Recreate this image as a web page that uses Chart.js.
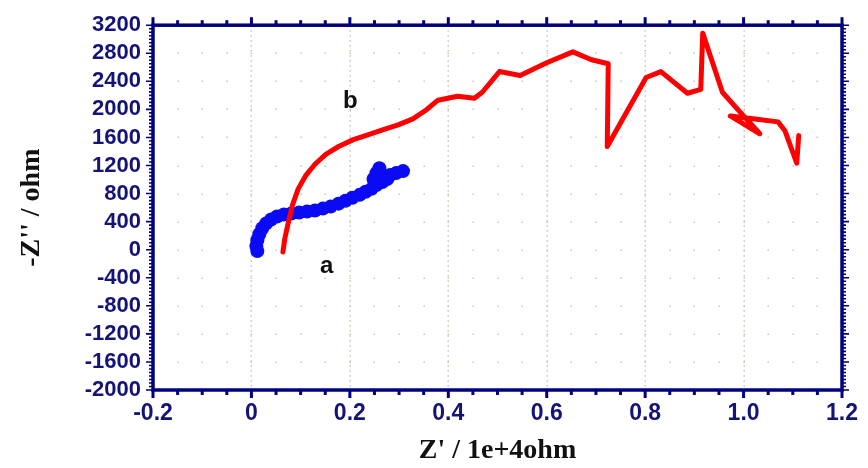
<!DOCTYPE html>
<html>
<head>
<meta charset="utf-8">
<script src="https://cdn.jsdelivr.net/npm/chart.js@4.4.1/dist/chart.umd.min.js"></script>
<style>
  html, body { margin: 0; padding: 0; background: #fff; }
  #wrap { width: 868px; height: 468px; }
</style>
</head>
<body>
<div id="wrap"><canvas id="nyquist"></canvas></div>
<script>
// ===== DATA =====
// curve a: blue dots, Z' in 1e4 ohm, -Z'' in ohm
const aRe = [0.012, 0.010, 0.012, 0.016, 0.022, 0.030, 0.040, 0.052, 0.066, 0.081,
  0.097, 0.113, 0.129, 0.145, 0.161, 0.177, 0.191, 0.205, 0.220, 0.232,
  0.244, 0.254, 0.266, 0.276, 0.248, 0.254, 0.260, 0.282, 0.294, 0.308];
const aIm = [-18, 52, 136, 221, 305, 375, 431, 473, 502, 516,
  530, 544, 558, 586, 614, 656, 698, 740, 782, 825,
  867, 923, 965, 1007, 1007, 1092, 1162, 1064, 1092, 1120];

// curve b: red line
const bRe = [0.064, 0.068, 0.075, 0.083, 0.095, 0.111, 0.129, 0.151, 0.177, 0.207,
  0.238, 0.268, 0.298, 0.328, 0.355, 0.379, 0.419, 0.453, 0.469, 0.504,
  0.546, 0.600, 0.653, 0.691, 0.725, 0.723, 0.802, 0.832, 0.886, 0.913,
  0.917, 0.957, 0.993, 1.033, 0.973, 1.023, 1.070, 1.084, 1.108, 1.112];
const bIm = [-32, 164, 389, 628, 867, 1064, 1218, 1359, 1471, 1569,
  1640, 1710, 1780, 1864, 1991, 2131, 2187, 2159, 2244, 2539,
  2483, 2665, 2820, 2707, 2651, 1471, 2455, 2539, 2230, 2286,
  3087, 2244, 1962, 1652, 1906, 1864, 1822, 1696, 1232, 1626];

const xTicks = [-0.2, 0, 0.2, 0.4, 0.6, 0.8, 1.0, 1.2];
const xTickLabels = ["-0.2", "0", "0.2", "0.4", "0.6", "0.8", "1.0", "1.2"];
const yTicks = [3200, 2800, 2400, 2000, 1600, 1200, 800, 400, 0, -400, -800, -1200, -1600, -2000];
const yTickLabels = ["3200", "2800", "2400", "2000", "1600", "1200", "800", "400", "0",
  "-400", "-800", "-1200", "-1600", "-2000"];

const curveLabels = [
  { text: "b", x: 0.201, y: 2117 },
  { text: "a", x: 0.153, y: -243 }
];

// ===== STYLE =====
const NAVY = "#000080";
const LABEL = "#141478";
const xMinor = 0.05;
const yMinor = 50;

const toPts = (xs, ys) => xs.map((v, i) => ({ x: v, y: ys[i] }));

// grid dots, frame, minor ticks and the a/b labels
const frame = {
  id: "frame",
  beforeDatasetsDraw(chart) {
    const { ctx, chartArea: a, scales: { x, y } } = chart;
    ctx.save();
    ctx.fillStyle = "#c6cbb4";
    xTicks.forEach(v => {
      const px = Math.round(x.getPixelForValue(v));
      if (px <= a.left + 3 || px >= a.right - 3) return;
      for (let py = a.top + 5; py < a.bottom - 3; py += 5) ctx.fillRect(px - 0.5, py, 1.5, 1.5);
    });
    const nx = Math.round((x.max - x.min) / xMinor);
    yTicks.forEach(v => {
      const py = Math.round(y.getPixelForValue(v));
      if (py <= a.top + 3 || py >= a.bottom - 3) return;
      for (let i = 1; i < nx; i++) {
        const px = Math.round(x.getPixelForValue(x.min + i * xMinor));
        ctx.fillRect(px - 0.5, py - 0.5, 1.5, 1.5);
      }
    });
    ctx.restore();
  },
  afterDraw(chart) {
    const { ctx, chartArea: a, scales: { x, y } } = chart;
    ctx.save();
    ctx.strokeStyle = NAVY;
    ctx.fillStyle = NAVY;
    ctx.lineWidth = 3.5;
    ctx.strokeRect(a.left, a.top, a.right - a.left, a.bottom - a.top);

    // x ticks, bottom (down) and top (up)
    const nx = Math.round((x.max - x.min) / xMinor);
    for (let i = 0; i <= nx; i++) {
      const px = x.getPixelForValue(x.min + i * xMinor);
      const len = i % 4 === 0 ? 8 : 5;
      ctx.fillRect(px - 1.5, a.bottom, 3, len);
      ctx.fillRect(px - 1.5, a.top - len, 3, len);
    }
    // y ticks, left and right (out)
    const ny = Math.round((y.max - y.min) / yMinor);
    ctx.lineWidth = 1.6;
    for (let i = 0; i <= ny; i++) {
      const py = y.getPixelForValue(y.min + i * yMinor);
      const len = i % 8 === 0 ? 7 : 4;
      ctx.beginPath();
      ctx.moveTo(a.left - len, py);
      ctx.lineTo(a.left, py);
      ctx.moveTo(a.right, py);
      ctx.lineTo(a.right + len, py);
      ctx.stroke();
    }

    ctx.fillStyle = "#111";
    ctx.font = "bold 24px 'Liberation Sans', Arial, sans-serif";
    ctx.textAlign = "center";
    ctx.textBaseline = "middle";
    curveLabels.forEach(l => ctx.fillText(l.text, x.getPixelForValue(l.x), y.getPixelForValue(l.y)));
    ctx.restore();
  }
};

new Chart(document.getElementById("nyquist"), {
  type: "scatter",
  data: {
    datasets: [
      {
        label: "b",
        data: toPts(bRe, bIm),
        showLine: true,
        borderColor: "#ff0000",
        borderWidth: 5,
        borderJoinStyle: "round",
        borderCapStyle: "round",
        pointRadius: 0,
        tension: 0
      },
      {
        label: "a",
        data: toPts(aRe, aIm),
        showLine: false,
        backgroundColor: "#0a0af5",
        borderColor: "#0a0af5",
        pointRadius: 7,
        pointBorderWidth: 0
      }
    ]
  },
  options: {
    responsive: true,
    maintainAspectRatio: false,
    animation: false,
    layout: { padding: { top: 20, right: 20, left: 0, bottom: 0 } },
    plugins: { legend: { display: false }, tooltip: { enabled: false } },
    scales: {
      x: {
        type: "linear",
        min: -0.2,
        max: 1.2,
        afterBuildTicks: s => { s.ticks = xTicks.map(v => ({ value: v })); },
        afterFit: s => { s.height = 78; },
        grid: { display: false, drawTicks: false },
        border: { display: false },
        ticks: {
          autoSkip: false,
          maxRotation: 0,
          padding: 10,
          color: LABEL,
          font: { family: "'Liberation Sans', Arial, sans-serif", size: 23, weight: "bold" },
          callback: (v, i) => xTickLabels[i]
        },
        title: {
          display: true,
          text: "Z' / 1e+4ohm",
          color: "#111",
          padding: { top: 0, bottom: 0 },
          font: { family: "'Liberation Serif', 'Times New Roman', serif", size: 28, weight: "bold" }
        }
      },
      y: {
        type: "linear",
        min: -2000,
        max: 3200,
        afterBuildTicks: s => { s.ticks = yTicks.map(v => ({ value: v })); },
        afterFit: s => { s.width = 153; },
        grid: { display: false, drawTicks: false },
        border: { display: false },
        ticks: {
          autoSkip: false,
          padding: 12,
          color: LABEL,
          font: { family: "'Liberation Sans', Arial, sans-serif", size: 22, weight: "bold" },
          callback: (v, i) => yTickLabels[i]
        },
        title: {
          display: true,
          text: "-Z'' / ohm",
          color: "#111",
          padding: { top: 15, bottom: 0 },
          font: { family: "'Liberation Serif', 'Times New Roman', serif", size: 28, weight: "bold" }
        }
      }
    }
  },
  plugins: [frame]
});
</script>
</body>
</html>
